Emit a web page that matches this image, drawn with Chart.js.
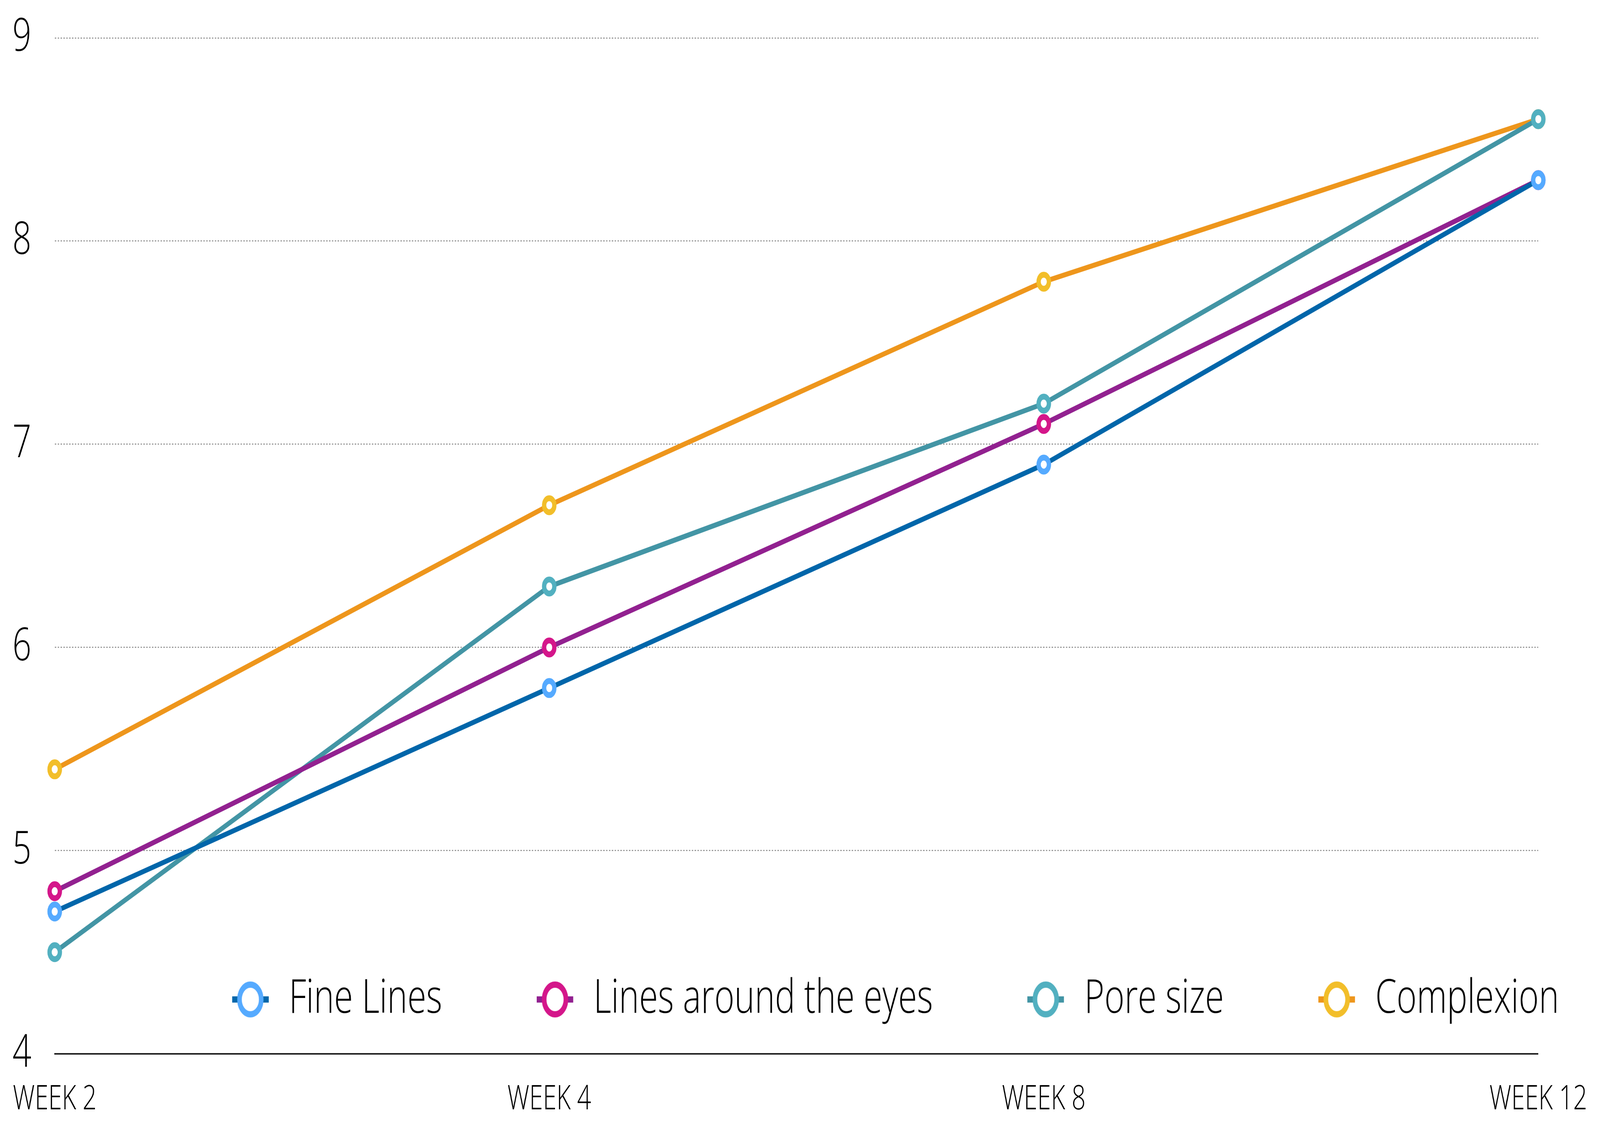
<!DOCTYPE html>
<html>
<head>
<meta charset="utf-8">
<style>
  html, body { margin: 0; padding: 0; background: #ffffff; overflow: hidden; }
  canvas { display: block; }
</style>
<script src="https://cdn.jsdelivr.net/npm/chart.js@4"></script>
</head>
<body>
<canvas id="c" width="5602" height="2897" style="width:100vw;height:100vh;"></canvas>
<script>
// ---- data ----
const categories = ['WEEK 2', 'WEEK 4', 'WEEK 8', 'WEEK 12'];
const seriesNames = ['Fine Lines', 'Lines around the eyes', 'Pore size', 'Complexion'];
const fineLines = [4.7, 5.8, 6.9, 8.3];
const linesAroundEyes = [4.8, 6.0, 7.1, 8.3];
const poreSize = [4.5, 6.3, 7.2, 8.6];
const complexion = [5.4, 6.7, 7.8, 8.6];
const yTicks = [4, 5, 6, 7, 8, 9];

// ---- styles ----
const lineColors = ['#0066AA', '#922190', '#4395A5', '#EE961C'];
const pointColors = ['#55AAFF', '#D4168A', '#52B0C0', '#F2BE2A'];
const FONT = "'Open Sans', 'Noto Sans', sans-serif";

function legendMarker(lineColor, ringColor) {
  const w = 128, h = 100;
  const cv = document.createElement('canvas');
  cv.width = w; cv.height = h;
  const g = cv.getContext('2d');
  g.fillStyle = lineColor;
  g.fillRect(0, h / 2 - 8, w, 16);
  g.beginPath();
  g.arc(w / 2, h / 2, 38, 0, Math.PI * 2);
  g.fillStyle = '#ffffff';
  g.fill();
  g.lineWidth = 16;
  g.strokeStyle = ringColor;
  g.stroke();
  return cv;
}

const allSeries = [fineLines, linesAroundEyes, poreSize, complexion];
const datasets = allSeries.map((d, i) => ({
  label: seriesNames[i],
  data: d,
  borderColor: lineColors[i],
  backgroundColor: '#ffffff',
  borderWidth: 13,
  pointRadius: 18,
  pointHoverRadius: 18,
  pointBorderWidth: 15,
  pointBackgroundColor: '#ffffff',
  pointBorderColor: pointColors[i],
  tension: 0,
  fill: false
}));

const markers = lineColors.map((c, i) => legendMarker(c, pointColors[i]));
const LEGEND_PAD = 320;
const LEGEND_FONT = 120;

const legendInside = {
  id: 'legendInside',
  beforeUpdate(chart) {
    const lg = chart.legend;
    if (lg && !lg._patched) {
      const f = lg.fit;
      lg.fit = function () {
        this.maxWidth = 100000;
        f.call(this);
        this._realH = this.height;
        this.height = 0;
      };
      lg._patched = true;
    }
  },
  afterLayout(chart) {
    const lg = chart.legend;
    if (!lg) return;
    const ca = chart.chartArea;
    const h = lg._realH || 0;
    const cy = ca.bottom - 139;
    lg.top = cy - LEGEND_PAD - LEGEND_FONT / 2;
    lg.bottom = lg.top + h;
    lg.height = h;
    lg.left = ca.left + 610 - LEGEND_PAD;
    lg.right = chart.width + 4000;
    lg.width = lg.right - lg.left;
  }
};

new Chart(document.getElementById('c'), {
  type: 'line',
  data: { labels: categories, datasets: datasets },
  plugins: [legendInside],
  options: {
    responsive: false,
    animation: false,
    devicePixelRatio: 1,
    layout: { padding: { left: 40, top: 97, right: 61, bottom: -36 } },
    plugins: {
      tooltip: { enabled: false },
      legend: {
        display: true,
        position: 'bottom',
        align: 'start',
        labels: {
          usePointStyle: true,
          pointStyleWidth: 150,
          padding: LEGEND_PAD,
          color: '#000000',
          font: { family: FONT, size: LEGEND_FONT, weight: '300' },
          generateLabels(chart) {
            return chart.data.datasets.map((ds, i) => ({
              text: ds.label,
              pointStyle: markers[i],
              fillStyle: pointColors[i],
              strokeStyle: pointColors[i],
              lineWidth: 0,
              hidden: false,
              datasetIndex: i,
              fontColor: '#000000'
            }));
          }
        }
      }
    },
    scales: {
      x: {
        offset: false,
        grid: { display: false, drawTicks: false },
        border: { display: true, color: '#222222', width: 4 },
        ticks: {
          color: '#000000',
          padding: 45,
          font: { family: FONT, size: 86, weight: '300', lineHeight: 1.7 },
          maxRotation: 0,
          autoSkip: false
        }
      },
      y: {
        min: 4,
        max: 9,
        afterBuildTicks(axis) { axis.ticks = yTicks.map(v => ({ value: v })); },
        afterFit(axis) { axis.width = 148; },
        grid: {
          drawTicks: false,
          color: (ctx) => ctx.tick && ctx.tick.value === 4 ? 'rgba(0,0,0,0)' : '#9a9a9a',
          lineWidth: 3
        },
        border: { display: false, dash: [5, 5] },
        ticks: {
          crossAlign: 'far',
          padding: 0,
          color: '#000000',
          font: { family: FONT, size: 116, weight: '300' }
        }
      }
    }
  }
});
</script>
</body>
</html>
